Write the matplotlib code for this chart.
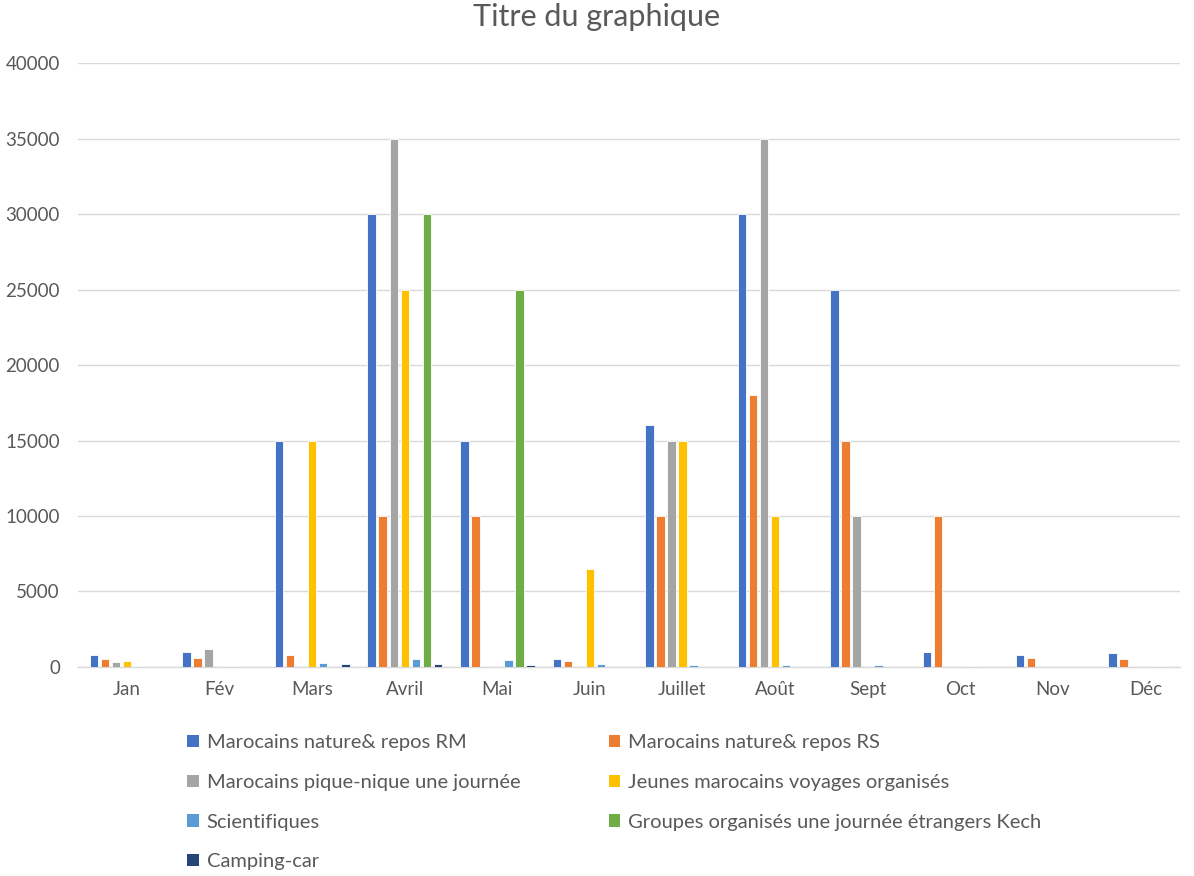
import matplotlib
matplotlib.use("Agg")
import matplotlib.pyplot as plt
from matplotlib.patches import Patch
import numpy as np

plt.rcParams['font.family'] = ['Lato', 'DejaVu Sans']

months = ["Jan", "Fév", "Mars", "Avril", "Mai", "Juin", "Juillet", "Août", "Sept", "Oct", "Nov", "Déc"]

series_names = [
    "Marocains nature& repos RM",
    "Marocains nature& repos RS",
    "Marocains pique-nique une journée",
    "Jeunes marocains voyages organisés",
    "Scientifiques",
    "Groupes organisés une journée étrangers Kech",
    "Camping-car",
]

nature_rm = [800, 1000, 15000, 30000, 15000, 500, 16000, 30000, 25000, 1000, 800, 900]
nature_rs = [500, 600, 800, 10000, 10000, 400, 10000, 18000, 15000, 10000, 600, 500]
pique_nique = [300, 1200, 0, 35000, 0, 0, 15000, 35000, 10000, 0, 0, 0]
jeunes = [400, 0, 15000, 25000, 0, 6500, 15000, 10000, 0, 0, 0, 0]
scientifiques = [50, 80, 250, 500, 450, 200, 150, 100, 150, 50, 0, 60]
groupes_kech = [0, 0, 0, 30000, 25000, 0, 0, 0, 0, 0, 0, 0]
camping_car = [0, 0, 170, 200, 100, 0, 0, 0, 0, 0, 0, 0]

all_series = [nature_rm, nature_rs, pique_nique, jeunes, scientifiques, groupes_kech, camping_car]
colors = ["#4472C4", "#ED7D31", "#A5A5A5", "#FFC000", "#5B9BD5", "#70AD47", "#264478"]

fig = plt.figure(figsize=(11.94, 8.76), dpi=100)
ax = fig.add_axes([0.0653, 0.2386, 0.9227, 0.6894])

x = np.arange(len(months))
step = 0.119
width = 0.092
n = len(all_series)
for i, (vals, col) in enumerate(zip(all_series, colors)):
    offs = (i - (n - 1) / 2) * step
    ax.bar(x + offs, vals, width=width, color=col, edgecolor="white", linewidth=0.6, zorder=3)

ax.set_xlim(-0.53, 11.37)
ax.set_ylim(0, 40000)
ax.set_yticks(np.arange(0, 40001, 5000))
ax.set_xticks(x)
ax.set_xticklabels(months)
ax.tick_params(axis="both", length=0, colors="#595959", labelsize=13.5)
ax.tick_params(axis="x", pad=10)
ax.tick_params(axis="y", pad=13)
ax.grid(axis="y", color="#D9D9D9", linewidth=1, zorder=0)
for s in ["top", "right", "left"]:
    ax.spines[s].set_visible(False)
ax.spines["bottom"].set_color("#D9D9D9")
ax.spines["bottom"].set_linewidth(1)

fig.text(0.5, 0.981, "Titre du graphique", ha="center", va="center", fontsize=22, color="#595959")

handles = [Patch(facecolor=c, edgecolor="none") for c in colors]
order = [0, 2, 4, 6, 1, 3, 5]
leg = fig.legend([handles[k] for k in order], [series_names[k] for k in order],
                 ncol=2, loc="upper left", bbox_to_anchor=(0.157, 0.162),
                 frameon=False, fontsize=14.5, labelcolor="#595959",
                 handlelength=0.55, handleheight=0.55, handletextpad=0.4,
                 columnspacing=4.4, labelspacing=1.13, borderaxespad=0, borderpad=0)

fig.savefig("out.png", dpi=100)
